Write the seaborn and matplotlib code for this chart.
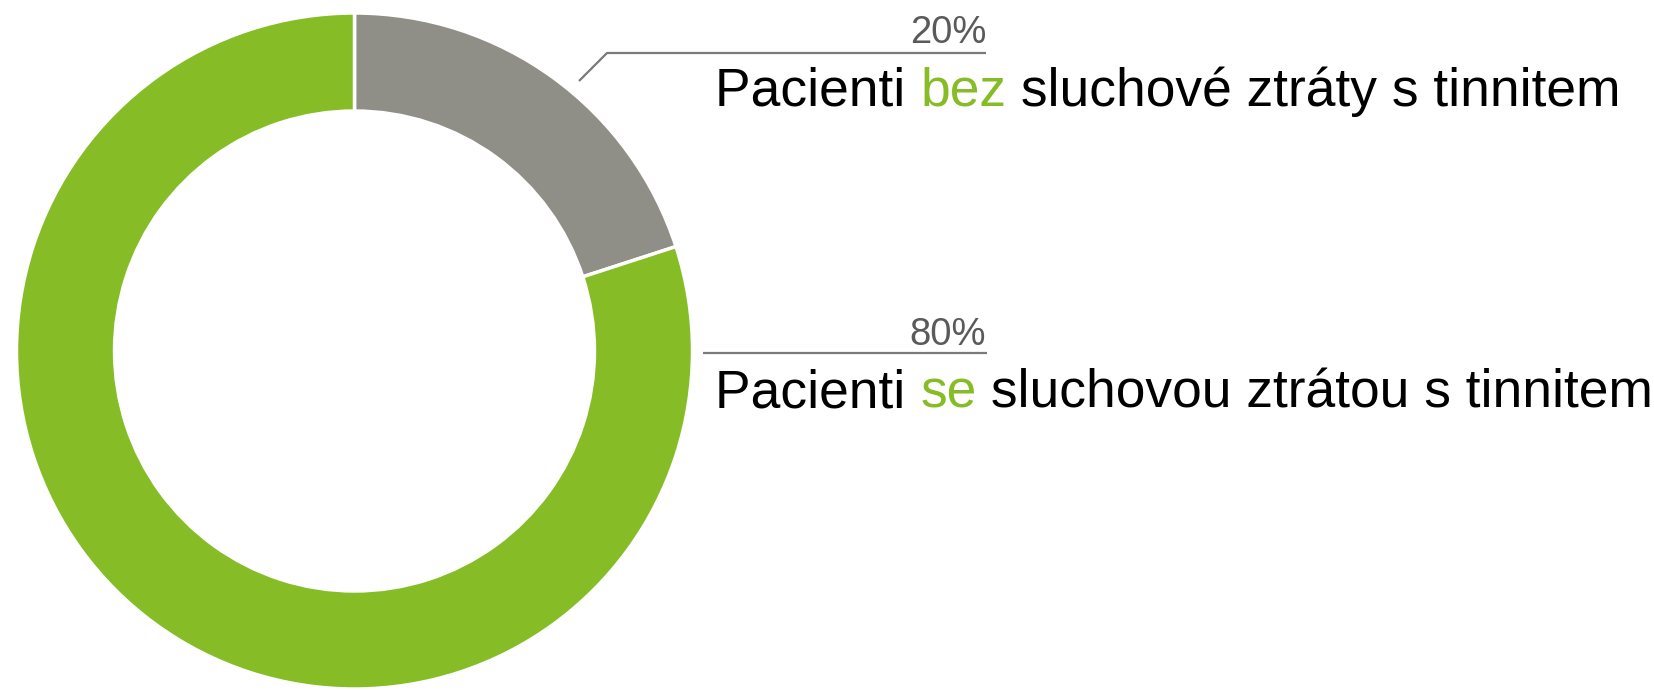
import matplotlib
matplotlib.use("Agg")
import matplotlib.pyplot as plt
import seaborn as sns

# Data
labels = ["Pacienti bez sluchové ztráty s tinnitem", "Pacienti se sluchovou ztrátou s tinnitem"]
shares = [20, 80]
pct_labels = ["20%", "80%"]
label_parts = [
    ["Pacienti ", "bez", " sluchové ztráty s tinnitem"],
    ["Pacienti ", "se", " sluchovou ztrátou s tinnitem"],
]
colors = ["#8f8e87", "#86bc25"]

sns.set_style("white")
plt.rcParams["font.family"] = ["Liberation Sans", "DejaVu Sans"]

W, H = 1654, 690
fig = plt.figure(figsize=(W / 100, H / 100), dpi=100)

# Donut: centre (354, 351) px, outer radius 338 px
cx, cy, r = 354.5, 351, 338
ax = fig.add_axes([(cx - r) / W, (H - cy - r) / H, 2 * r / W, 2 * r / H])
ax.pie(shares, colors=colors, startangle=90, counterclock=False, radius=1,
       wedgeprops=dict(width=0.29, edgecolor="white", linewidth=2.5))
ax.set_xlim(-1, 1)
ax.set_ylim(-1, 1)
ax.axis("off")

# Overlay in pixel coordinates for callouts
ov = fig.add_axes([0, 0, 1, 1])
ov.set_xlim(0, W)
ov.set_ylim(H, 0)
ov.axis("off")

line_color = "#7a7a7a"
ov.plot([579, 607, 986], [81, 53, 53], color=line_color, lw=1.6, solid_capstyle="butt")
ov.plot([703, 987], [353, 353], color=line_color, lw=1.6, solid_capstyle="butt")

pct_pos = [(986, 43), (986, 345)]
text_pos = [(715, 106), (715, 407)]

for pct, (px, py) in zip(pct_labels, pct_pos):
    ov.text(px, py, pct, ha="right", va="baseline", fontsize=27.5, color="#5a5a5a")

for parts, (tx, ty) in zip(label_parts, text_pos):
    t = ov.text(tx, ty, parts[0], ha="left", va="baseline", fontsize=38.4, color="black")
    t2 = ov.annotate(parts[1], xy=(1, 0), xycoords=t, ha="left", va="bottom",
                     fontsize=38.4, color="#86bc25")
    ov.annotate(parts[2], xy=(1, 0), xycoords=t2, ha="left", va="bottom",
                fontsize=38.4, color="black")

fig.savefig("out.png", dpi=100)
